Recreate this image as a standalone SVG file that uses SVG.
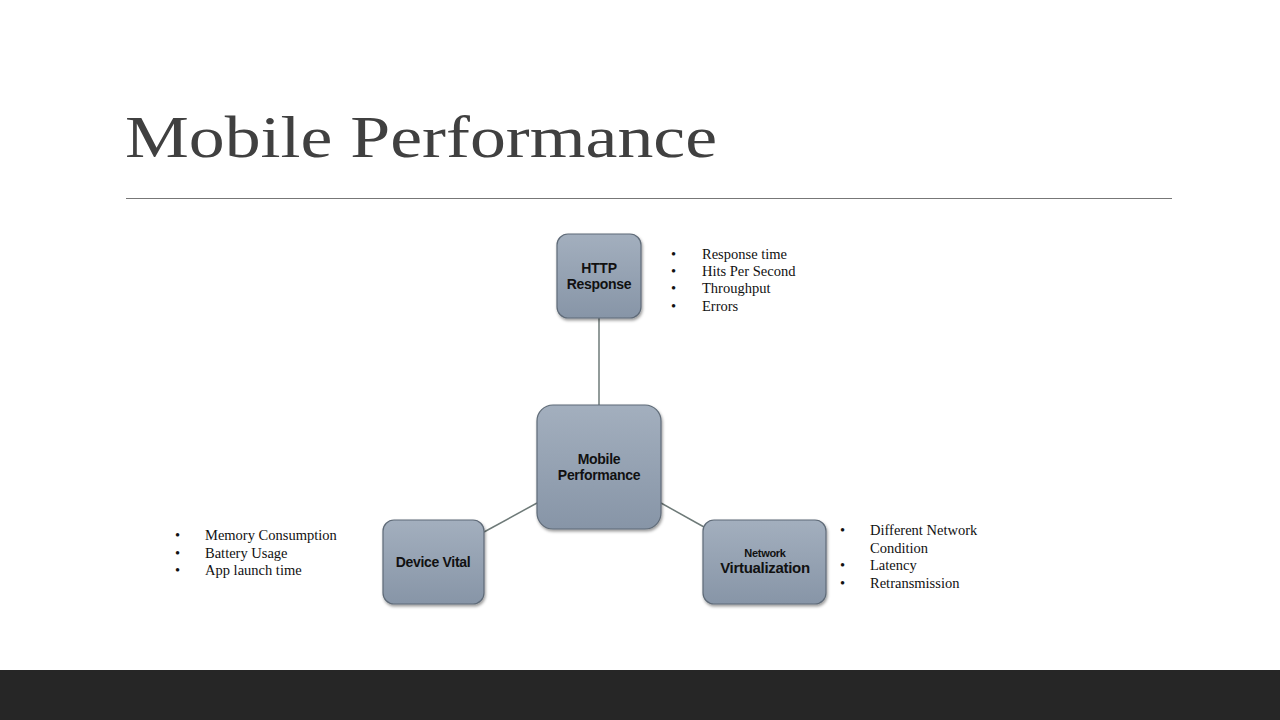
<svg xmlns="http://www.w3.org/2000/svg" width="1280" height="720" viewBox="0 0 1280 720">
<defs>
<linearGradient id="g" x1="0" y1="0" x2="0" y2="1"><stop offset="0" stop-color="#a3afbe"/><stop offset="1" stop-color="#8795a7"/></linearGradient>
<filter id="sh" x="-20%" y="-20%" width="140%" height="140%"><feDropShadow dx="1" dy="2" stdDeviation="1.5" flood-color="#000" flood-opacity="0.4"/></filter>
</defs>
<style>
.n{fill:url(#g);stroke:#5f6b78;stroke-width:1.2;filter:url(#sh)}
.nt{font-family:"Liberation Sans",Arial,sans-serif;font-weight:bold;fill:#111;text-anchor:middle;letter-spacing:-0.3px}
.b{font-family:"Liberation Serif","Times New Roman",serif;font-size:14.5px;fill:#111}
.c{stroke:#6e7a78;stroke-width:1.5;fill:none}
</style>
<rect width="1280" height="720" fill="#fff"/>
<rect x="0" y="670" width="1280" height="50" fill="#262626"/>
<text x="125" y="157" font-family="'Liberation Serif','Times New Roman',serif" font-size="60" fill="#404040" textLength="592" lengthAdjust="spacingAndGlyphs">Mobile Performance</text>
<line x1="126" y1="198.5" x2="1172" y2="198.5" stroke="#777" stroke-width="1.2"/>
<g id="connectors">
<line class="c" x1="599" y1="318" x2="599" y2="405"/>
<line class="c" x1="537" y1="503" x2="484" y2="532"/>
<line class="c" x1="661" y1="503" x2="704" y2="527"/>
</g>
<g id="center"><rect class="n" x="537" y="405" width="124" height="124" rx="16"/>
<text class="nt" font-size="14" x="599" y="464">Mobile</text><text class="nt" font-size="14" x="599" y="480">Performance</text></g>
<g id="http"><rect class="n" x="557" y="234" width="84" height="84" rx="11"/>
<text class="nt" font-size="14" x="599" y="273">HTTP</text><text class="nt" font-size="14" x="599" y="289">Response</text></g>
<g id="device"><rect class="n" x="383" y="520" width="101" height="84" rx="11"/>
<text class="nt" font-size="14" x="433" y="567">Device Vital</text></g>
<g id="network"><rect class="n" x="703" y="520" width="123" height="84" rx="11"/>
<text class="nt" font-size="11" x="765" y="557">Network</text><text class="nt" font-size="15" x="765" y="573">Virtualization</text></g>
<g id="http-list" class="b">
<text x="671" y="259">•</text><text x="702" y="259">Response time</text>
<text x="671" y="276">•</text><text x="702" y="276">Hits Per Second</text>
<text x="671" y="293">•</text><text x="702" y="293">Throughput</text>
<text x="671" y="311">•</text><text x="702" y="311">Errors</text>
</g>
<g id="device-list" class="b">
<text x="175" y="540">•</text><text x="205" y="540">Memory Consumption</text>
<text x="175" y="558">•</text><text x="205" y="558">Battery Usage</text>
<text x="175" y="575">•</text><text x="205" y="575">App launch time</text>
</g>
<g id="network-list" class="b">
<text x="840" y="535">•</text><text x="870" y="535">Different Network</text>
<text x="870" y="553">Condition</text>
<text x="840" y="570">•</text><text x="870" y="570">Latency</text>
<text x="840" y="588">•</text><text x="870" y="588">Retransmission</text>
</g>
</svg>
